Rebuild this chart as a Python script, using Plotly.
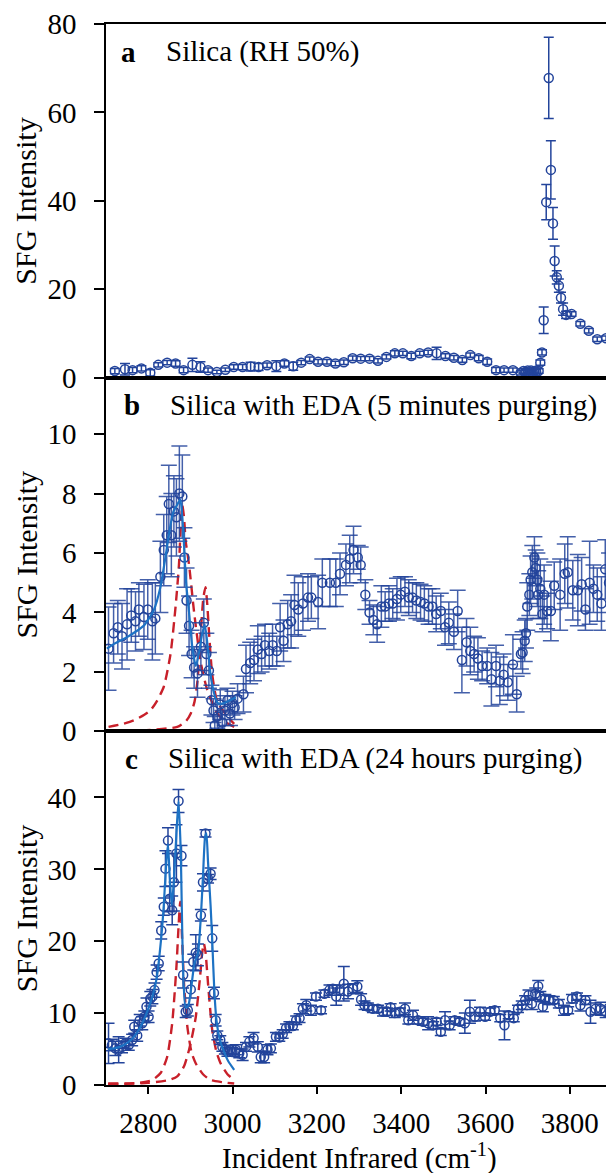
import plotly.graph_objects as go
from plotly.subplots import make_subplots

# ---------------- Panel a: Silica (RH 50%) ----------------
a_x = [2721, 2745, 2763, 2784, 2805, 2824, 2845, 2865, 2884, 2905, 2924, 2942, 2963, 2983,
       3003, 3024, 3043, 3062, 3082, 3104, 3123, 3144, 3163, 3183, 3203, 3224, 3244, 3264,
       3285, 3304, 3325, 3345, 3365, 3385, 3404, 3424, 3444, 3464, 3484, 3505, 3525, 3545,
       3564, 3584, 3604, 3625, 3644, 3665, 3684, 3690, 3695, 3700, 3704, 3708, 3712, 3716,
       3720, 3726, 3730, 3734, 3738, 3744, 3750, 3755, 3760, 3764, 3769, 3774, 3779, 3784,
       3791, 3804, 3825, 3845, 3865, 3886]
a_y = [1.5, 1.9, 1.7, 2.1, 1.1, 2.9, 3.4, 3.2, 1.7, 2.9, 2.4, 1.7, 1.3, 1.8,
       2.4, 2.4, 2.5, 2.4, 2.8, 2.6, 3.2, 2.6, 3.4, 4.2, 3.6, 3.6, 3.2, 3.5,
       4.4, 4.3, 4.3, 3.8, 4.7, 5.5, 5.5, 4.9, 5.5, 5.7, 5.5, 4.9, 4.5, 4.0,
       5.1, 4.4, 3.6, 1.7, 1.7, 1.7, 1.1, 1.5, 1.3, 1.6, 1.2, 1.6, 1.3, 1.5,
       1.4, 1.5, 3.4, 5.7, 13.0, 39.7, 67.8, 47.0, 34.9, 26.4, 22.7, 20.8, 18.1, 15.5,
       14.2, 14.4, 12.2, 10.6, 8.7, 8.9]
a_err = [0.6, 1.3, 0.6, 0.6, 0.7, 0.5, 0.5, 0.6, 0.6, 1.5, 1.2, 0.5, 0.4, 0.4,
         0.5, 0.6, 1.0, 0.8, 0.5, 1.2, 0.6, 0.9, 0.5, 0.5, 0.5, 0.5, 0.5, 0.5,
         0.5, 0.5, 0.5, 0.5, 0.5, 0.6, 0.5, 0.6, 0.5, 0.5, 1.4, 0.5, 0.5, 0.5,
         0.5, 0.6, 0.6, 0.6, 0.5, 0.5, 0.5, 0.5, 0.5, 0.5, 0.5, 0.5, 0.5, 0.5,
         0.5, 0.5, 0.6, 0.6, 3.0, 4.0, 9.2, 6.6, 3.6, 3.4, 1.5, 1.5, 1.2, 1.4,
         0.8, 0.5, 0.5, 0.5, 0.5, 0.5]

# ---------------- Panel b: Silica with EDA (5 minutes purging) ----------------
b_x = [2706, 2718, 2728, 2738, 2750, 2760, 2770, 2778, 2790, 2799, 2810, 2817, 2829, 2837,
       2844, 2849, 2855, 2861, 2867, 2874, 2881, 2886, 2891, 2897, 2903, 2909, 2917, 2925,
       2932, 2938, 2944, 2950, 2955, 2958, 2964, 2971, 2976, 2982, 2988, 2994, 3000, 3005,
       3012, 3026, 3032, 3042, 3051, 3060, 3069, 3077, 3087, 3095, 3105, 3113, 3121, 3131,
       3139, 3147, 3156, 3167, 3179, 3187, 3203, 3213, 3231, 3245, 3255, 3269, 3278, 3287,
       3297, 3304, 3315, 3325, 3334, 3343, 3353, 3362, 3371, 3380, 3390, 3399, 3409, 3418,
       3427, 3436, 3446, 3455, 3465, 3474, 3483, 3494, 3504, 3513, 3525, 3534, 3544, 3555,
       3564, 3573, 3582, 3592, 3604, 3614, 3625, 3634, 3643, 3653, 3665, 3674, 3684, 3688,
       3693, 3696, 3699, 3704, 3707, 3711, 3716, 3719, 3723, 3725, 3730, 3735, 3739, 3746,
       3755, 3763, 3777, 3788, 3795, 3807, 3819, 3828, 3837, 3847, 3856, 3865, 3875, 3884,
       3893]
b_y = [2.78, 3.3, 3.5, 3.2, 3.6, 3.9, 3.7, 4.1, 3.85, 4.1, 3.7, 3.8, 5.2, 6.1,
       6.6, 7.65, 6.6, 7.4, 7.2, 8.0, 7.9, 5.85, 4.4, 3.55, 2.6, 2.15, 1.95, 2.85,
       3.65, 2.6, 2.05, 1.05, 0.7, 0.2, 0.5, 0.9, 0.3, 0.7, 1.05, 0.6, 0.95, 0.8,
       1.1, 1.25, 2.1, 2.3, 2.4, 2.75, 2.6, 2.9, 2.7, 2.9, 2.7, 3.5, 3.05, 3.6,
       3.7, 4.25, 4.1, 4.3, 4.5, 4.5, 4.35, 5.0, 5.0, 5.0, 5.3, 5.6, 5.8, 6.1,
       5.85, 5.6, 4.6, 4.0, 3.75, 3.6, 4.2, 4.2, 4.3, 4.3, 4.45, 4.6, 4.7, 4.5,
       4.5, 4.4, 4.35, 4.3, 4.2, 4.2, 3.95, 4.05, 3.5, 3.65, 3.35, 4.05, 2.4, 3.0,
       2.7, 2.6, 2.45, 2.2, 2.2, 1.75, 2.2, 1.7, 1.9, 1.65, 2.25, 1.25, 2.6, 2.65,
       3.05, 3.3, 4.2, 4.6, 5.1, 5.35, 5.85, 5.5, 5.1, 4.6, 4.8, 3.95, 4.6, 4.05,
       4.05, 4.9, 4.6, 5.3, 5.35, 4.75, 4.75, 4.95, 4.1, 5.0, 4.8, 4.6, 4.3, 5.45,
       5.0]
b_err = [1.4, 1.0, 0.9, 1.1, 1.2, 0.9, 1.0, 0.9, 1.1, 1.0, 1.3, 1.2, 1.2, 1.2,
         1.3, 1.3, 1.4, 1.2, 1.3, 1.6, 1.4, 1.0, 1.1, 1.0, 0.8, 0.7, 0.8, 0.8,
         0.8, 0.7, 0.6, 0.5, 0.4, 0.3, 0.4, 0.5, 0.4, 0.5, 0.4, 0.4, 0.4, 0.4,
         0.5, 0.6, 0.8, 0.7, 0.7, 0.8, 0.6, 0.7, 0.6, 0.7, 0.5, 0.8, 0.7, 0.8,
         0.9, 1.0, 0.9, 0.9, 0.8, 0.7, 0.9, 0.8, 0.8, 0.8, 0.7, 0.7, 0.8, 0.8,
         0.4, 0.6, 0.5, 0.4, 0.5, 0.6, 0.7, 0.5, 0.6, 0.5, 0.7, 0.6, 0.5, 0.6,
         0.5, 0.6, 0.6, 0.6, 0.6, 0.6, 0.6, 0.6, 0.6, 0.7, 0.6, 0.7, 1.1, 0.8,
         0.8, 0.6, 0.7, 0.5, 0.6, 0.9, 0.7, 0.8, 0.7, 0.6, 1.0, 0.6, 0.5, 0.7,
         0.7, 0.5, 0.8, 0.7, 0.8, 0.9, 0.7, 0.6, 0.9, 0.8, 1.0, 0.6, 1.0, 0.6,
         1.0, 0.8, 1.2, 1.0, 1.2, 1.0, 1.2, 0.9, 0.7, 1.4, 0.8, 0.9, 0.9, 1.0,
         1.0]

b_fit_x = [2702, 2720, 2750, 2770, 2790, 2813, 2829, 2841, 2850, 2860, 2868, 2876, 2882,
           2890, 2897, 2905, 2913, 2920, 2927, 2934, 2940, 2948, 2956, 2965, 2975, 2990,
           3008]
b_fit_y = [2.78, 2.95, 3.17, 3.35, 3.56, 4.07, 4.85, 5.86, 6.7, 7.4, 7.6, 7.8, 7.0,
           5.0, 4.0, 2.8, 2.2, 2.6, 3.2, 3.6, 3.0, 1.9, 1.3, 0.95, 0.93, 1.02,
           1.15]
b_peak1_x = [2706, 2740, 2766, 2790, 2805, 2820, 2837, 2853, 2865, 2873, 2877, 2881,
             2885, 2889, 2897, 2909, 2925, 2940, 2964, 2985, 3004]
b_peak1_y = [0.15, 0.25, 0.37, 0.55, 0.7, 1.0, 1.5, 2.6, 4.2, 5.6, 6.8, 7.6,
             7.2, 6.4, 5.6, 4.0, 2.3, 1.4, 0.6, 0.3, 0.15]
b_peak2_x = [2706, 2805, 2869, 2890, 2901, 2910, 2917, 2925, 2931, 2936, 2940, 2944,
             2952, 2964, 2988, 3004]
b_peak2_y = [0.03, 0.05, 0.15, 0.35, 0.6, 1.0, 1.7, 3.4, 4.5, 4.85, 4.3, 3.4,
             1.9, 1.0, 0.5, 0.25]

# ---------------- Panel c: Silica with EDA (24 hours purging) ----------------
c_x = [2706, 2714, 2722, 2730, 2738, 2746, 2754, 2762, 2767, 2774, 2780, 2786, 2791, 2796,
       2801, 2805, 2810, 2815, 2820, 2825, 2831, 2837, 2841, 2847, 2851, 2857, 2861, 2867,
       2872, 2879, 2883, 2889, 2894, 2901, 2907, 2913, 2918, 2925, 2930, 2936, 2942, 2948,
       2952, 2956, 2960, 2964, 2971, 2976, 2982, 2988, 2994, 3000, 3008, 3016, 3024, 3032,
       3040, 3050, 3060, 3067, 3075, 3083, 3091, 3103, 3111, 3119, 3127, 3135, 3143, 3151,
       3159, 3167, 3175, 3186, 3198, 3210, 3218, 3230, 3238, 3246, 3254, 3264, 3274, 3286,
       3296, 3305, 3313, 3321, 3333, 3345, 3357, 3367, 3375, 3385, 3397, 3409, 3417, 3428,
       3440, 3452, 3464, 3476, 3484, 3494, 3504, 3515, 3527, 3539, 3551, 3563, 3575, 3587,
       3599, 3611, 3622, 3635, 3645, 3655, 3667, 3677, 3686, 3694, 3702, 3710, 3718, 3725,
       3730, 3736, 3742, 3750, 3762, 3774, 3786, 3796, 3805, 3817, 3825, 3837, 3849, 3861,
       3873, 3885, 3897]
c_y = [5.8, 5.55, 5.1, 4.9, 5.3, 5.8, 5.55, 6.25, 8.1, 6.9, 9.0, 8.6, 9.5, 10.9,
       9.5, 12.0, 12.3, 13.2, 15.7, 16.9, 21.5, 24.8, 30.1, 34.0, 25.9, 24.3, 28.2, 32.2,
       39.5, 31.9, 15.3, 10.2, 10.4, 13.3, 17.1, 18.4, 18.1, 23.6, 28.2, 35.0, 28.7, 29.4,
       20.4, 12.8, 9.0, 6.9, 6.25, 5.3, 4.9, 4.6, 4.9, 4.6, 4.9, 4.4, 4.2, 5.3,
       6.0, 6.5, 5.3, 3.9, 3.9, 4.9, 5.1, 6.7, 6.6, 7.1, 7.9, 8.2, 8.2, 9.0,
       9.3, 10.6, 11.1, 10.4, 12.3, 10.4, 12.7, 13.2, 13.4, 12.3, 13.2, 14.1, 13.0, 13.4,
       13.7, 11.9, 11.1, 10.9, 10.6, 10.6, 10.2, 10.2, 10.8, 10.0, 10.2, 10.6, 9.0, 9.7,
       9.0, 8.8, 8.6, 8.3, 8.8, 7.4, 9.0, 8.3, 9.0, 8.8, 8.6, 10.2, 9.5, 10.2,
       9.5, 10.2, 10.4, 9.3, 8.3, 9.7, 9.3, 10.6, 11.1, 11.8, 12.5, 11.3, 12.7, 13.75,
       12.3, 10.9, 12.0, 11.8, 11.8, 11.3, 10.4, 10.4, 12.0, 12.3, 11.1, 11.8, 10.2, 10.6,
       10.6, 10.2, 10.4]
c_err = [2.8, 0.8, 1.0, 1.8, 0.8, 0.7, 0.7, 0.8, 0.9, 0.8, 0.8, 0.9, 0.8, 1.2,
         0.8, 1.0, 1.0, 1.0, 1.0, 1.0, 1.2, 1.2, 2.5, 1.8, 1.8, 2.0, 4.0, 4.0,
         1.6, 1.4, 1.8, 0.8, 0.8, 1.2, 1.1, 2.5, 1.5, 0.8, 1.2, 0.5, 0.6, 0.8,
         1.8, 0.8, 0.8, 0.6, 0.6, 0.6, 0.6, 0.6, 0.6, 0.6, 0.7, 0.6, 0.8, 0.6,
         0.7, 0.8, 0.7, 0.8, 0.8, 0.7, 0.6, 0.6, 0.5, 0.6, 0.6, 0.6, 0.5, 0.6,
         0.6, 0.7, 0.8, 0.7, 0.5, 0.5, 0.5, 0.7, 0.5, 1.2, 0.7, 2.4, 1.0, 0.7,
         0.8, 0.8, 0.6, 0.5, 0.5, 0.5, 0.6, 0.5, 0.5, 0.6, 0.5, 0.8, 0.5, 0.7,
         0.5, 0.5, 0.9, 0.5, 0.5, 0.5, 1.2, 0.6, 0.5, 0.5, 1.4, 1.6, 0.6, 0.6,
         0.5, 0.5, 0.5, 0.5, 2.0, 0.5, 0.5, 0.5, 0.6, 0.6, 0.7, 0.8, 0.8, 0.8,
         0.7, 0.7, 0.6, 0.6, 0.5, 0.6, 0.7, 0.5, 0.6, 0.5, 0.8, 0.6, 1.6, 0.8,
         0.9, 0.8, 0.8]

c_fit_x = [2705, 2720, 2740, 2760, 2780, 2795, 2810, 2820, 2831, 2837, 2843, 2847, 2851,
           2856, 2861, 2867, 2872, 2877, 2883, 2889, 2895, 2902, 2910, 2918, 2925, 2930,
           2935, 2938, 2942, 2948, 2952, 2957, 2962, 2970, 2980, 2990, 3004]
c_fit_y = [5.0, 5.1, 5.5, 6.3, 7.9, 9.8, 12.3, 14.8, 20.5, 25.0, 31.0, 33.5, 29.0,
           25.0, 28.5, 35.0, 39.5, 33.0, 16.0, 10.8, 11.0, 13.5, 17.0, 18.3, 23.5, 29.0,
           34.5, 35.0, 31.0, 25.0, 20.0, 13.0, 9.0, 6.3, 4.6, 3.3, 2.1]
c_peak1_x = [2705, 2780, 2810, 2830, 2845, 2857, 2867, 2872, 2876, 2880, 2885, 2893,
             2903, 2913, 2930, 2948, 2975, 3004]
c_peak1_y = [0.2, 0.3, 0.7, 1.7, 3.9, 8.6, 16.4, 22.0, 25.5, 21.0, 14.1, 8.1,
             4.5, 3.0, 1.5, 0.7, 0.4, 0.2]
c_peak2_x = [2705, 2800, 2850, 2869, 2885, 2897, 2905, 2913, 2923, 2928, 2932, 2936,
             2942, 2952, 2962, 2972, 2988, 3004]
c_peak2_y = [0.1, 0.3, 0.7, 1.2, 2.6, 4.9, 7.0, 9.5, 15.0, 18.3, 19.7, 18.5,
             14.1, 7.6, 4.6, 3.0, 1.5, 0.7]

# ---------------- styling ----------------
SERIF = "Liberation Serif"
MARK = "#23449b"
ERRB = "rgba(35,68,155,0.85)"
FITC = "#1d72c4"
REDC = "#c8202a"

# the page body has an 8px default margin, so the figure is laid out 8px smaller
PAGE_OFF = 8
FIG_W, FIG_H = 614 - PAGE_OFF, 1173 - PAGE_OFF

fig = make_subplots(rows=3, cols=1, shared_xaxes=True, vertical_spacing=0)


def add_panel(row, x, y, err, errcol, capw):
    fig.add_trace(go.Scatter(
        x=x, y=y, mode="markers",
        marker=dict(symbol="circle-open", size=9, color=MARK, line=dict(width=1.5, color=MARK)),
        error_y=dict(type="data", array=err, visible=True, color=errcol, thickness=1.5, width=capw),
        showlegend=False, cliponaxis=True), row=row, col=1)


def add_line(row, x, y, color, dash, width):
    fig.add_trace(go.Scatter(x=x, y=y, mode="lines", line=dict(color=color, dash=dash, width=width,
                                                               shape="spline", smoothing=0.6),
                             showlegend=False), row=row, col=1)


add_panel(1, a_x, a_y, a_err, MARK, 5)

add_line(2, b_peak1_x, b_peak1_y, REDC, "10px,6px", 2.4)
add_line(2, b_peak2_x, b_peak2_y, REDC, "10px,6px", 2.4)
add_panel(2, b_x, b_y, b_err, ERRB, 8)
add_line(2, b_fit_x, b_fit_y, FITC, "solid", 2.2)

add_line(3, c_peak1_x, c_peak1_y, REDC, "10px,6px", 2.4)
add_line(3, c_peak2_x, c_peak2_y, REDC, "10px,6px", 2.4)
add_panel(3, c_x, c_y, c_err, MARK, 6)
add_line(3, c_fit_x, c_fit_y, FITC, "solid", 2.2)

axis_common = dict(showline=True, linecolor="black", linewidth=1.5, mirror=True,
                   showgrid=False, zeroline=False, automargin=False,
                   tickfont=dict(family=SERIF, size=29, color="black"))

for r in (1, 2, 3):
    fig.update_xaxes(range=[2700, 3900], row=r, col=1, **axis_common)
fig.update_xaxes(ticks="", showticklabels=False, row=1, col=1)
fig.update_xaxes(ticks="", showticklabels=False, row=2, col=1)
fig.update_xaxes(ticks="outside", ticklen=7, tickwidth=1.5, tickcolor="black",
                 tickvals=[2800, 3000, 3200, 3400, 3600, 3800], ticklabelstandoff=4,
                 row=3, col=1)

fig.update_yaxes(range=[0, 80], tickvals=[0, 20, 40, 60, 80], row=1, col=1, **axis_common)
fig.update_yaxes(range=[0, 11.9], tickvals=[0, 2, 4, 6, 8, 10], row=2, col=1, **axis_common)
fig.update_yaxes(range=[0, 49.2], tickvals=[0, 10, 20, 30, 40], row=3, col=1, **axis_common)
fig.update_yaxes(ticks="outside", ticklen=10, tickwidth=1.5, tickcolor="black",
                 ticklabelstandoff=12)

labels = [("a", "Silica (RH 50%)"),
          ("b", "Silica with EDA (5 minutes purging)"),
          ("c", "Silica with EDA (24 hours purging)")]
yrefs = ["y domain", "y2 domain", "y3 domain"]
letter_x = [119, 122, 123]
text_x = [164, 168, 166]
plot_l, plot_w = 106, 506
for i, (let, txt) in enumerate(labels):
    fig.add_annotation(text="<b>" + let + "</b>", xref="paper", yref=yrefs[i],
                       x=(letter_x[i] - plot_l) / plot_w, y=0.922, xanchor="left", yanchor="middle",
                       showarrow=False, font=dict(family=SERIF, size=29, color="black"))
    fig.add_annotation(text=txt, xref="paper", yref=yrefs[i],
                       x=(text_x[i] - plot_l) / plot_w, y=0.922, xanchor="left", yanchor="middle",
                       showarrow=False, font=dict(family=SERIF, size=29, color="black"))
    fig.add_annotation(text="SFG Intensity", xref="paper", yref=yrefs[i],
                       x=(26 - plot_l) / plot_w, y=0.5, xanchor="center", yanchor="middle",
                       textangle=-90, showarrow=False,
                       font=dict(family=SERIF, size=30, color="black"))

fig.add_annotation(text="Incident Infrared (cm<sup>-1</sup>)", xref="paper", yref="paper",
                   x=0.5, y=(1085 - 1156) / 1061, xanchor="center", yanchor="middle",
                   showarrow=False, font=dict(family=SERIF, size=29, color="black"))

fig.update_layout(width=FIG_W, height=FIG_H,
                  margin=dict(l=106 - PAGE_OFF, r=2, t=24 - PAGE_OFF, b=88),
                  plot_bgcolor="white", paper_bgcolor="white", showlegend=False)

fig.write_html("out.html")
